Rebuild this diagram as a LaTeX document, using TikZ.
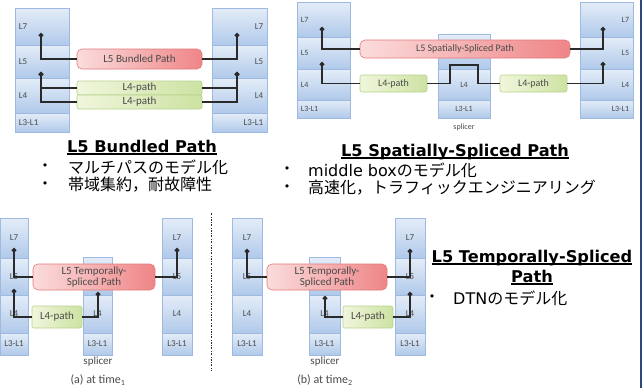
\documentclass[tikz,border=0pt]{standalone}
\usepackage{fontspec}
\setmainfont{DejaVu Sans}
\newfontfamily\jpfont{Noto Sans CJK JP}
\newfontfamily\tagfont{Carlito}
\usetikzlibrary{arrows.meta}

\newcommand{\ulbar}[1]{\setbox0\hbox{#1}\rlap{\rule[-2.8pt]{\wd0}{1.4pt}}\box0}

\definecolor{cellTop}{HTML}{E4EDF8}
\definecolor{cellBot}{HTML}{B0C9EA}
\definecolor{cellEdge}{HTML}{9FBAE0}
\definecolor{pipeL}{HTML}{FBDCDC}
\definecolor{pipeR}{HTML}{EF8587}
\definecolor{pipeEdge}{HTML}{E27A7C}
\definecolor{boxL}{HTML}{F0F6DC}
\definecolor{boxR}{HTML}{CDE2A2}
\definecolor{boxEdge}{HTML}{B7D38C}
\definecolor{wireCol}{HTML}{2A2A2A}
\definecolor{tagCol}{HTML}{4A4A4A}
\definecolor{frameCol}{HTML}{2F4678}

\begin{document}
\begin{tikzpicture}[
    x=1pt, y=-1pt,
    cell/.style={draw=cellEdge, line width=0.6pt, top color=cellTop, bottom color=cellBot, inner sep=0pt},
    tagtext/.style={font=\tagfont\fontsize{9}{9}\selectfont, text=tagCol, inner sep=0pt},
    lefttag/.style={label={[tagtext, anchor=west, xshift=4pt]west:#1}},
    righttag/.style={label={[tagtext, anchor=east, xshift=-4pt]east:#1}},
    pipe/.style={draw=pipeEdge, line width=0.6pt, rounded corners=5pt, left color=pipeL, right color=pipeR,
        inner sep=0pt, font=\tagfont\fontsize{11}{11.5}\selectfont, text=tagCol, align=center},
    pbox/.style={draw=boxEdge, line width=0.6pt, rounded corners=2pt, left color=boxL, right color=boxR,
        inner sep=0pt, font=\tagfont\fontsize{11}{11}\selectfont, text=tagCol},
    wire/.style={draw=wireCol, line width=1.8pt},
    lift/.style={wire, -{Circle[length=4.5pt]}},
    caption/.style={font=\tagfont\fontsize{11}{11}\selectfont, text=tagCol},
    heading/.style={font=\bfseries\fontsize{16.2}{16.2}\selectfont, anchor=base},
    bullet/.style={font=\fontsize{11}{11}\selectfont},
    item/.style={font=\jpfont\fontsize{16}{16}\selectfont, anchor=west, inner sep=0pt}
]
\useasboundingbox (0,0) rectangle (642,388);

% ============================
% L5 Bundled Path (top left)
% ============================
\node[cell, lefttag=L7, minimum width=54pt, minimum height=37pt] (aL7) at (42,26.5) {};
\node[cell, lefttag=L5, minimum width=54pt, minimum height=33pt] (aL5) at (42,61.5) {};
\node[cell, lefttag=L4, minimum width=54pt, minimum height=35pt] (aL4) at (42,95.5) {};
\node[cell, lefttag=L3-L1, minimum width=54pt, minimum height=19pt] (aL1) at (42,122.5) {};
\node[cell, righttag=L7, minimum width=55pt, minimum height=37pt] (aR7) at (239.5,26.5) {};
\node[cell, righttag=L5, minimum width=55pt, minimum height=33pt] (aR5) at (239.5,61.5) {};
\node[cell, righttag=L4, minimum width=55pt, minimum height=35pt] (aR4) at (239.5,95.5) {};
\node[cell, righttag=L3-L1, minimum width=55pt, minimum height=19pt] (aR1) at (239.5,122.5) {};

\node[pipe, minimum width=125pt, minimum height=20pt] (pA) at (139.5,59) {L5 Bundled Path};
\node[pbox, minimum width=125pt, minimum height=14pt] (gA1) at (139.5,88) {L4-path};
\node[pbox, minimum width=125pt, minimum height=14pt] (gA2) at (139.5,102) {L4-path};

\coordinate (tA1) at (41,33);
\coordinate (tA2) at (41,72);
\coordinate (tA3) at (237,33);
\coordinate (tA4) at (237,72);
\draw[lift] (pA.west) -| (tA1);
\draw[lift] (gA1.west) -| (tA2);
\draw[lift] (gA2.west) -| (tA2);
\draw[lift] (pA.east) -| (tA3);
\draw[lift] (gA1.east) -| (tA4);
\draw[lift] (gA2.east) -| (tA4);

% ============================
% L5 Spatially-Spliced Path (top right)
% ============================
\begin{scope}[tagtext/.append style={font=\tagfont\fontsize{8}{8}\selectfont}]
\node[cell, lefttag=L7, minimum width=53pt, minimum height=35pt] (bL7) at (323.5,19.5) {};
\node[cell, lefttag=L5, minimum width=53pt, minimum height=32pt] (bL5) at (323.5,53) {};
\node[cell, lefttag=L4, minimum width=53pt, minimum height=31pt] (bL4) at (323.5,84.5) {};
\node[cell, lefttag=L3-L1, minimum width=53pt, minimum height=18pt] (bL1) at (323.5,109) {};
\node[cell, righttag=L7, minimum width=53pt, minimum height=35pt] (bR7) at (606.5,19.5) {};
\node[cell, righttag=L5, minimum width=53pt, minimum height=32pt] (bR5) at (606.5,53) {};
\node[cell, righttag=L4, minimum width=53pt, minimum height=31pt] (bR4) at (606.5,84.5) {};
\node[cell, righttag=L3-L1, minimum width=53pt, minimum height=18pt] (bR1) at (606.5,109) {};
\node[cell, minimum width=52pt, minimum height=35pt] (bS5) at (464,51.5) {};
\node[cell, tagtext, minimum width=52pt, minimum height=31pt] (bS4) at (464,84.5) {L4};
\node[cell, tagtext, minimum width=52pt, minimum height=18pt] (bS1) at (464,109) {L3-L1};
\node[caption, font=\tagfont\fontsize{8}{8}\selectfont] (bCap) at (464,127) {splicer};
\end{scope}

\node[pipe, font=\tagfont\fontsize{10}{10}\selectfont, minimum width=210pt, minimum height=18pt] (pB) at (465,49) {L5 Spatially-Spliced Path};
\node[pbox, font=\tagfont\fontsize{10}{10}\selectfont, minimum width=67pt, minimum height=17pt] (gB1) at (393.5,83.5) {L4-path};
\node[pbox, font=\tagfont\fontsize{10}{10}\selectfont, minimum width=67pt, minimum height=17pt] (gB2) at (533.5,83.5) {L4-path};

\coordinate (tB1) at (322,27);
\coordinate (tB2) at (322,62);
\coordinate (tB3) at (603,27);
\coordinate (tB4) at (603,62);
\coordinate (hopL) at (450,65);
\coordinate (hopR) at (478,65);
\draw[lift] (pB.west) -| (tB1);
\draw[lift] (gB1.west) -| (tB2);
\draw[lift] (pB.east) -| (tB3);
\draw[lift] (gB2.east) -| (tB4);
\draw[wire] (gB1.east) -| (hopL) -- (hopR) |- (gB2.west);

% ============================
% L5 Temporally-Spliced Path, (a) at time1
% ============================
\node[cell, tagtext, minimum width=28pt, minimum height=40pt] (cL7) at (14,238) {L7};
\node[cell, tagtext, minimum width=28pt, minimum height=37pt] (cL5) at (14,276.5) {L5};
\node[cell, tagtext, minimum width=28pt, minimum height=38pt] (cL4) at (14,314) {L4};
\node[cell, tagtext, minimum width=28pt, minimum height=22pt] (cL1) at (14,344) {L3-L1};
\node[cell, minimum width=29pt, minimum height=38pt] (cS5) at (97.5,276) {};
\node[cell, tagtext, minimum width=29pt, minimum height=38pt] (cS4) at (97.5,314) {L4};
\node[cell, tagtext, minimum width=29pt, minimum height=22pt] (cS1) at (97.5,344) {L3-L1};
\node[cell, tagtext, minimum width=30pt, minimum height=40pt] (cR7) at (177,238) {L7};
\node[cell, tagtext, minimum width=30pt, minimum height=37pt] (cR5) at (177,276.5) {L5};
\node[cell, tagtext, minimum width=30pt, minimum height=38pt] (cR4) at (177,314) {L4};
\node[cell, tagtext, minimum width=30pt, minimum height=22pt] (cR1) at (177,344) {L3-L1};

\node[pipe, minimum width=122pt, minimum height=26pt] (pC) at (94,277) {L5 Temporally-\\Spliced Path};
\node[pbox, minimum width=50pt, minimum height=22pt] (gC) at (57,317) {L4-path};

\coordinate (tC1) at (14,248);
\coordinate (tC2) at (14,289);
\coordinate (tC3) at (98,292);
\coordinate (tC4) at (177,248);
\draw[lift] (pC.west) -| (tC1);
\draw[lift] (gC.west) -| (tC2);
\draw[lift] (gC.east) -| (tC3);
\draw[lift] (pC.east) -| (tC4);

\node[caption] (cCap) at (98,362) {splicer};
\node[caption, font=\tagfont\fontsize{12}{12}\selectfont] (cTime) at (98,380) {(a) at time\textsubscript{1}};

% divider
\draw[wireCol, line width=0.8pt, dash pattern=on 2pt off 1.5pt on 0.6pt off 1.5pt] (211,213) -- (211,370);

% ============================
% L5 Temporally-Spliced Path, (b) at time2
% ============================
\node[cell, tagtext, minimum width=30pt, minimum height=40pt] (dL7) at (247,238) {L7};
\node[cell, tagtext, minimum width=30pt, minimum height=37pt] (dL5) at (247,276.5) {L5};
\node[cell, tagtext, minimum width=30pt, minimum height=38pt] (dL4) at (247,314) {L4};
\node[cell, tagtext, minimum width=30pt, minimum height=22pt] (dL1) at (247,344) {L3-L1};
\node[cell, minimum width=31pt, minimum height=38pt] (dS5) at (324.5,276) {};
\node[cell, tagtext, minimum width=31pt, minimum height=38pt] (dS4) at (324.5,314) {L4};
\node[cell, tagtext, minimum width=31pt, minimum height=22pt] (dS1) at (324.5,344) {L3-L1};
\node[cell, tagtext, minimum width=30pt, minimum height=40pt] (dR7) at (410,238) {L7};
\node[cell, tagtext, minimum width=30pt, minimum height=37pt] (dR5) at (410,276.5) {L5};
\node[cell, tagtext, minimum width=30pt, minimum height=38pt] (dR4) at (410,314) {L4};
\node[cell, tagtext, minimum width=30pt, minimum height=22pt] (dR1) at (410,344) {L3-L1};

\node[pipe, minimum width=120pt, minimum height=26pt] (pD) at (327,277) {L5 Temporally-\\Spliced Path};
\node[pbox, minimum width=50pt, minimum height=22pt] (gD) at (368,317) {L4-path};

\coordinate (tD1) at (247,249);
\coordinate (tD2) at (410,249);
\coordinate (tD3) at (410,292);
\coordinate (tD4) at (325,296);
\draw[lift] (pD.west) -| (tD1);
\draw[lift] (pD.east) -| (tD2);
\draw[lift] (gD.east) -| (tD3);
\draw[lift] (gD.west) -| (tD4);

\node[caption] (dCap) at (325,362) {splicer};
\node[caption, font=\tagfont\fontsize{12}{12}\selectfont] (dTime) at (325,380) {(b) at time\textsubscript{2}};

% ============================
% Texts
% ============================
\node[heading] (hA) at (142,152) {\ulbar{L5 Bundled Path}};
\node[bullet] (uA1) at (45,167) {•};
\node[item] (iA1) at (68,167) {マルチパスのモデル化};
\node[bullet] (uA2) at (45,185) {•};
\node[item] (iA2) at (68,185) {帯域集約，耐故障性};

\node[heading] (hB) at (455,156) {\ulbar{L5 Spatially-Spliced Path}};
\node[bullet] (uB1) at (287,170) {•};
\node[item] (iB1) at (308,170) {{\rmfamily middle box}のモデル化};
\node[bullet] (uB2) at (287,188) {•};
\node[item] (iB2) at (308,188) {高速化，トラフィックエンジニアリング};

\node[heading] (hC1) at (532,262) {\ulbar{L5 Temporally-Spliced}};
\node[heading] (hC2) at (532,282) {\ulbar{Path}};
\node[bullet] (uC) at (432,298) {•};
\node[item] (iC) at (453,298) {{\rmfamily DTN}のモデル化};

% right frame edge
\draw[frameCol, line width=2.5pt] (640.75,0) -- (640.75,388);
\end{tikzpicture}
\end{document}
